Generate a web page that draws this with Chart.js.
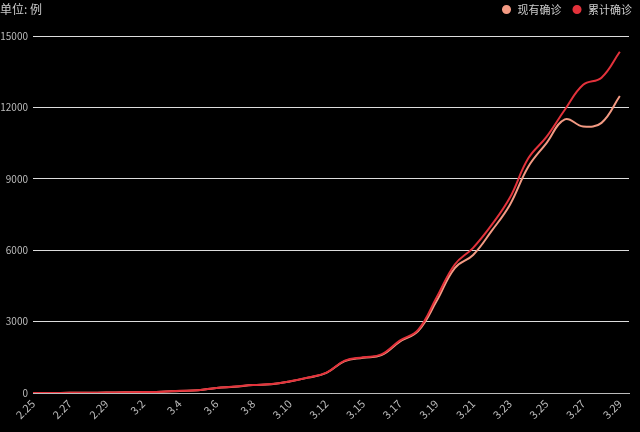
<!DOCTYPE html>
<html>
<head>
<meta charset="utf-8">
<script src="https://cdn.jsdelivr.net/npm/chart.js@4"></script>
<style>
  body { margin: 0; background: #000; }
  #wrap { width: 640px; height: 432px; position: relative; }
</style>
</head>
<body>
<div id="wrap"><canvas id="chart"></canvas></div>
<script>
// Datos
const fechas = ['2.25', '2.26', '2.27', '2.28', '2.29', '3.1', '3.2', '3.3', '3.4', '3.5',
  '3.6', '3.7', '3.8', '3.9', '3.10', '3.11', '3.12', '3.14', '3.15', '3.16',
  '3.17', '3.18', '3.19', '3.20', '3.21', '3.22', '3.23', '3.24', '3.25', '3.26',
  '3.27', '3.28', '3.29'];
const existentes = [1, 1, 8, 8, 18, 27, 41, 55, 88, 112,
  212, 265, 333, 370, 485, 645, 845, 1340, 1480, 1590,
  2160, 2600, 3850, 5250, 5800, 6800, 7900, 9500, 10500, 11500,
  11200, 11350, 12480];
const acumulados = [1, 1, 8, 8, 18, 27, 42, 56, 90, 114,
  214, 268, 337, 374, 491, 652, 858, 1359, 1500, 1620,
  2200, 2650, 4000, 5400, 6100, 7050, 8200, 9850, 10760, 11900,
  12950, 13250, 14340];
const yTicks = [0, 3000, 6000, 9000, 12000, 15000];

const fondo = {
  id: 'fondo',
  afterLayout(chart) {
    // mover la leyenda arriba a la derecha
    const lg = chart.legend;
    lg.left += 13; lg.right += 13;
    lg.top -= 11; lg.bottom -= 11;
  },
  beforeDraw(chart) {
    const ctx = chart.ctx;
    ctx.save();
    ctx.fillStyle = '#000';
    ctx.fillRect(0, 0, chart.width, chart.height);
    ctx.restore();
  },
  afterDraw(chart) {
    const ctx = chart.ctx;
    ctx.save();
    ctx.fillStyle = '#cccccc';
    ctx.font = '12px "Noto Sans CJK SC"';
    ctx.textBaseline = 'middle';
    ctx.fillText('单位: 例', 0, 9);
    ctx.restore();
  }
};

const ctx = document.getElementById('chart').getContext('2d');
const chart = new Chart(ctx, {
  type: 'line',
  data: {
    datasets: [
      {
        label: '现有确诊',
        data: existentes.map((v, i) => ({ x: i, y: v })),
        borderColor: '#f39a83',
        backgroundColor: '#f39a83',
        borderWidth: 2,
        pointRadius: 0,
        tension: 0.4,
        order: 1
      },
      {
        label: '累计确诊',
        data: acumulados.map((v, i) => ({ x: i, y: v })),
        borderColor: '#e3323b',
        backgroundColor: '#e3323b',
        borderWidth: 2,
        pointRadius: 0,
        tension: 0.4,
        order: 0
      }
    ]
  },
  options: {
    responsive: true,
    maintainAspectRatio: false,
    animation: false,
    layout: { padding: { top: 5, right: 11, left: 0, bottom: 0 } },
    plugins: {
      legend: {
        display: true,
        position: 'top',
        align: 'end',
        labels: {
          usePointStyle: true,
          pointStyle: 'circle',
          boxHeight: 5,
          color: '#cccccc',
          padding: 10,
          font: { family: '"Noto Sans CJK SC"', size: 11 },
          sort: (a, b) => a.datasetIndex - b.datasetIndex
        }
      },
      tooltip: { enabled: false }
    },
    scales: {
      x: {
        type: 'linear',
        min: 0,
        max: 32.5,
        afterFit: s => { s.height = 39; },
        grid: { display: false, drawTicks: false },
        border: { display: true, color: '#bbbbbb', width: 1 },
        ticks: {
          stepSize: 2,
          includeBounds: false,
          autoSkip: false,
          maxRotation: 45,
          minRotation: 45,
          padding: 4,
          color: '#bbbbbb',
          font: { family: '"Noto Sans CJK SC"', size: 11 },
          callback: v => fechas[v] ?? ''
        }
      },
      y: {
        min: 0,
        max: 15000,
        afterFit: s => { s.width = 33; },
        afterBuildTicks: s => { s.ticks = yTicks.map(v => ({ value: v })); },
        grid: { color: '#dddddd', drawTicks: false, lineWidth: 1 },
        border: { display: false },
        ticks: {
          padding: 5,
          color: '#bbbbbb',
          font: { family: '"Noto Sans CJK SC"', size: 10 },
          callback: v => String(v)
        }
      }
    }
  },
  plugins: [fondo]
});
</script>
</body>
</html>
